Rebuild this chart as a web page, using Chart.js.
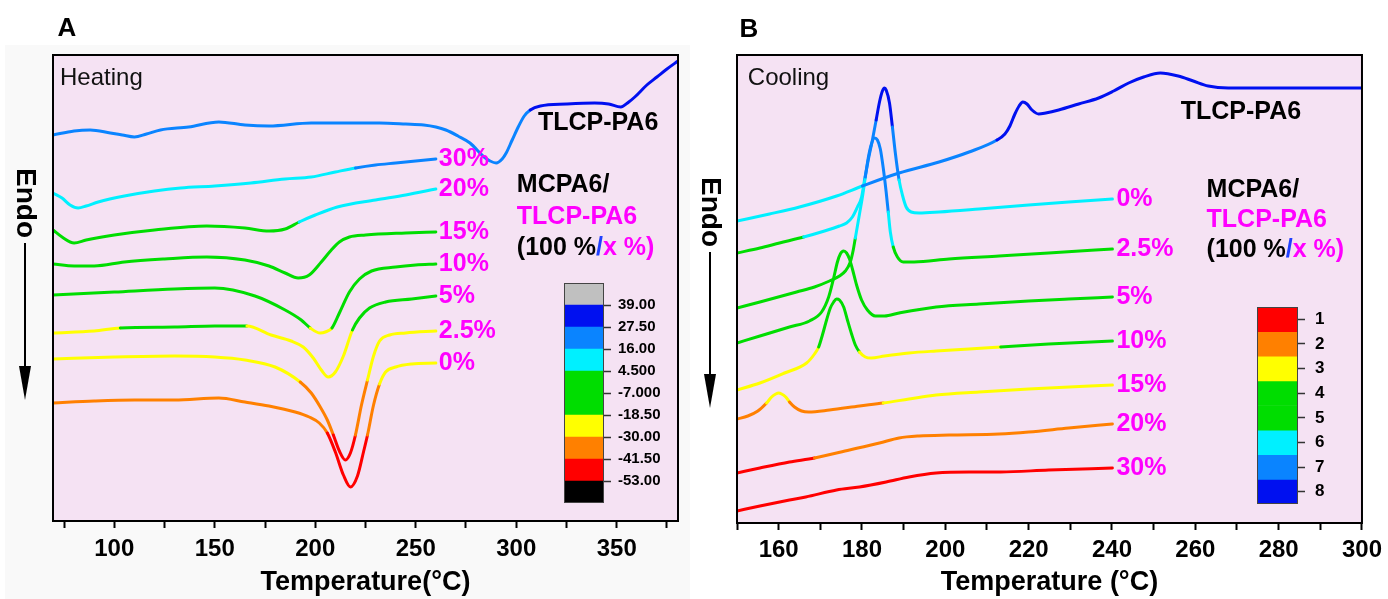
<!DOCTYPE html>
<html>
<head>
<meta charset="utf-8">
<script src="https://cdn.jsdelivr.net/npm/chart.js@4.4.0/dist/chart.umd.min.js"></script>
<style>
  body { margin: 0; background: #fff; width: 1388px; height: 599px; overflow: hidden; position: relative; }
  canvas { position: absolute; }
  #heat { left: 0; top: 0; }
  #cool { left: 690px; top: 0; }
  #barA { left: 564px; top: 261px; }
  #barB { left: 1257px; top: 285px; }
</style>
</head>
<body>
<canvas id="heat" width="690" height="599"></canvas>
<canvas id="cool" width="698" height="599"></canvas>
<canvas id="barA" width="110" height="264"></canvas>
<canvas id="barB" width="92" height="241"></canvas>
<script>
// ---------------------------------------------------------------- data : heating (A)
const hT_tlcp = [69.5, 80, 88, 98, 104, 110, 116, 123, 137, 152, 165, 177, 198, 215, 232, 245, 254, 260, 265, 271, 277, 284, 287, 290, 293, 295, 298, 301, 304, 307, 312, 325, 339, 346, 352, 356, 359, 365, 370, 375, 380.5];
const hY_tlcp = [38.6, 39.0, 39.1, 38.8, 38.6, 38.4, 38.7, 39.1, 39.4, 39.9, 39.6, 39.5, 39.8, 39.8, 39.8, 39.7, 39.6, 39.4, 39.1, 38.5, 37.8, 36.4, 36.0, 35.8, 36.2, 36.8, 38.1, 39.4, 40.5, 41.1, 41.5, 41.7, 41.8, 41.7, 41.4, 41.9, 42.4, 43.6, 44.4, 45.2, 46.0];
const hT_30 = [69.5, 74, 78, 82, 86, 92, 105, 120, 133, 150, 168, 185, 198, 210, 220, 230, 240, 250, 260];
const hY_30 = [32.8, 32.3, 31.6, 31.3, 31.5, 31.9, 32.5, 33.0, 33.3, 33.5, 33.8, 34.2, 34.4, 34.9, 35.3, 35.6, 35.8, 36.0, 36.2];
const hT_20 = [69.5, 74, 80, 86, 100, 120, 146, 165, 177, 185, 192, 200, 211, 230, 245, 260];
const hY_20 = [29.1, 28.4, 27.8, 28.1, 28.6, 29.1, 29.5, 29.3, 29.0, 29.2, 29.9, 30.6, 31.4, 32.1, 32.6, 33.2];
const hT_15 = [69.5, 80, 90, 105, 125, 146, 165, 177, 185, 191.5, 197, 203, 208, 212, 217, 225, 245, 260];
const hY_15 = [25.7, 25.5, 25.5, 25.9, 26.2, 26.4, 26.1, 25.5, 24.8, 24.3, 24.6, 25.9, 27.1, 27.9, 28.4, 28.6, 28.8, 28.9];
const hT_10 = [69.5, 100, 130, 150, 170, 185, 193, 197.5, 202.5, 205, 208.3, 212, 217, 222, 228, 240, 250, 260];
const hY_10 = [22.6, 22.9, 23.2, 23.3, 22.5, 21.1, 20.1, 19.3, 18.8, 18.9, 19.3, 20.8, 22.9, 24.2, 25.0, 25.4, 25.6, 25.7];
const hT_5 = [69.5, 90, 103, 130, 150, 166, 178, 188, 194, 199, 203, 206.5, 210, 214, 218.5, 222, 227, 235, 248, 260];
const hY_5 = [18.8, 19.0, 19.3, 19.4, 19.5, 19.5, 18.6, 18.0, 17.4, 16.3, 15.1, 14.4, 14.9, 16.5, 19.1, 20.3, 21.3, 21.9, 22.2, 22.5];
const hT_25 = [69.5, 100, 130, 150, 165, 180, 192.5, 198, 202.5, 206, 209, 212, 215, 217.5, 220, 223, 226, 229, 232, 237, 245, 260];
const hY_25 = [16.2, 16.4, 16.5, 16.4, 16.1, 15.4, 13.9, 12.8, 11.4, 10.1, 8.6, 7.0, 6.1, 6.8, 8.6, 11.6, 14.1, 16.5, 18.0, 18.6, 18.8, 19.0];
const hT_0 = [69.5, 90, 110, 130, 152, 165, 177, 190, 197, 202, 206, 210, 214, 217.5, 221, 224, 226, 229, 232, 235, 240, 248, 260];
const hY_0 = [11.8, 12.0, 12.1, 12.1, 12.3, 11.9, 11.5, 10.9, 10.4, 9.8, 8.8, 6.9, 4.6, 3.4, 4.5, 6.9, 8.6, 11.6, 13.7, 14.9, 15.4, 15.7, 15.8];

// ---------------------------------------------------------------- data : cooling (B)
const cT_tlcp = [150, 157.8, 165, 173.9, 180.1, 188.9, 198.5, 205.7, 212.4, 214.3, 215.5, 216.7, 217.7, 218.6, 219.6, 220.8, 222.4, 224.1, 227.2, 232, 236.8, 240.4, 244, 247.6, 251.6, 255.9, 259.5, 263.1, 267.9, 279.9, 300];
const cY_tlcp = [30.2, 30.9, 31.6, 32.7, 33.7, 35.0, 36.1, 37.1, 38.3, 38.9, 39.7, 40.9, 41.7, 42.1, 41.9, 41.3, 40.9, 41.0, 41.3, 41.9, 42.5, 43.2, 44.0, 44.6, 45.0, 44.7, 44.2, 43.7, 43.5, 43.5, 43.5];
const cT_0 = [150, 155.5, 160.2, 166, 171, 174.6, 176.3, 177.7, 178.9, 179.9, 180.6, 181.5, 182.5, 183.4, 184.2, 184.9, 185.4, 185.8, 186.6, 187.3, 188, 188.9, 189.7, 190.6, 191.8, 193.7, 198.5, 208.1, 220, 229.6, 240.1];
const cY_0 = [27.0, 27.5, 28.0, 28.6, 29.2, 29.7, 30.0, 30.6, 31.6, 32.6, 34.3, 36.3, 38.3, 40.3, 42.1, 43.2, 43.5, 43.3, 42.0, 39.6, 37.0, 34.3, 32.8, 31.6, 31.1, 31.0, 31.1, 31.4, 31.8, 32.1, 32.4];
const cT_25 = [150, 155.5, 164.3, 168.6, 172.2, 174.6, 176, 177.2, 177.9, 178.4, 178.9, 179.4, 180.1, 180.8, 181.5, 182.2, 183, 183.7, 184.4, 185.1, 185.8, 186.3, 186.8, 187.5, 188.5, 189.9, 192.5, 200.9, 212.9, 224.8, 240.1];
const cY_25 = [21.5, 22.1, 23.1, 23.6, 24.2, 24.7, 25.2, 26.1, 27.3, 28.5, 29.7, 30.9, 32.6, 34.6, 36.5, 37.8, 38.5, 38.3, 37.4, 35.5, 33.1, 31.1, 29.1, 27.6, 26.6, 26.1, 26.1, 26.4, 26.7, 27.0, 27.4];
const cT_5 = [150, 155.5, 162.6, 167.4, 170.3, 172, 173.2, 174.1, 174.8, 175.6, 176.3, 177, 177.7, 178.7, 179.9, 181.3, 183.2, 185.4, 188.9, 197.8, 208.1, 220, 229.6, 240.1];
const cY_5 = [18.0, 18.7, 19.6, 20.2, 21.1, 22.6, 24.5, 26.1, 26.9, 27.2, 27.0, 26.4, 25.4, 23.8, 22.3, 21.3, 20.7, 20.7, 21.0, 21.6, 21.9, 22.2, 22.4, 22.6];
const cT_10 = [150, 155.5, 161.4, 166.7, 168.6, 169.6, 170.5, 171.5, 172.4, 173.2, 173.9, 174.6, 175.6, 176.5, 177.5, 178.4, 179.4, 180.8, 182.2, 185.4, 191.3, 197.8, 205.7, 213.3, 224.8, 240.1];
const cY_10 = [13.3, 14.0, 15.0, 16.0, 16.9, 17.6, 18.8, 20.3, 21.5, 22.1, 22.4, 22.3, 21.6, 20.3, 18.9, 17.8, 17.1, 16.6, 16.5, 16.7, 17.0, 17.2, 17.4, 17.6, 17.9, 18.2];
const cT_15 = [150, 152.6, 155, 157.1, 158.3, 159.3, 160, 160.7, 161.7, 162.6, 163.8, 165.5, 167.2, 172.2, 179.4, 185.1, 191.3, 197.8, 208.1, 220, 240.1];
const cY_15 = [10.4, 10.7, 11.2, 12.0, 12.6, 12.9, 13.0, 12.9, 12.6, 12.1, 11.6, 11.2, 11.1, 11.3, 11.7, 12.0, 12.4, 12.8, 13.1, 13.4, 13.8];
const cT_20 = [150, 155.5, 162.6, 168.6, 177, 184.2, 188.9, 193.7, 200.9, 212.9, 220, 229.6, 240.1];
const cY_20 = [5.0, 5.5, 6.1, 6.5, 7.3, 8.0, 8.5, 8.7, 8.8, 8.9, 9.1, 9.5, 9.9];
const cT_30 = [150, 155.5, 162.6, 166.5, 173.9, 179.4, 185.8, 191.3, 197.8, 205.7, 213.3, 224.8, 240.1];
const cY_30 = [1.2, 1.7, 2.3, 2.6, 3.3, 3.6, 4.1, 4.6, 5.0, 5.1, 5.1, 5.3, 5.5];

// ---------------------------------------------------------------- colour scales
const levelsA = [-64.5, -53, -41.5, -30, -18.5, -7, 4.5, 16, 27.5, 39, 50.5];
const ticksA = [-53, -41.5, -30, -18.5, -7, 4.5, 16, 27.5, 39];
const levelsB = [1, 2, 3, 4, 5, 6, 7, 8];

// ---------------------------------------------------------------- styles
const FONT = '"Liberation Sans", Arial, Helvetica, sans-serif';
const PLOT_BG = '#f5e2f3';
const MAGENTA = '#ff00ff';
const pal = {
    black: '#000000', red: '#ff0000', orange: '#ff8000', yellow: '#ffff00',
    green: '#00dd00', cyan: '#00f0ff', lblue: '#0a84ff', blue: '#0010f0', gray: '#c0c0c0'
};
const barColorsA = ['black', 'red', 'orange', 'yellow', 'green', 'green', 'cyan', 'lblue', 'blue', 'gray'];
const barColorsB = ['red', 'orange', 'yellow', 'green', 'green', 'cyan', 'lblue', 'blue'];

// colour bands along each trace : [from temperature, colour]
const bandsA = {
    tlcp: [[0, 'lblue'], [306, 'blue']],
    p30: [[0, 'cyan'], [220, 'lblue']],
    p20: [[0, 'green'], [192, 'cyan']],
    p15: [[0, 'green']],
    p10: [[0, 'green'], [197.5, 'yellow'], [208.3, 'green']],
    p5: [[0, 'yellow'], [103, 'green'], [166, 'yellow'], [218.5, 'green']],
    p25: [[0, 'yellow'], [192.5, 'orange'], [209, 'red'], [220, 'orange'], [226, 'yellow']],
    p0: [[0, 'orange'], [206, 'red'], [226, 'orange'], [232, 'yellow']]
};
const bandsB = {
    tlcp: [[0, 'cyan'], [180, 'lblue'], [212.4, 'blue']],
    p0: [[0, 'green'], [166, 'cyan'], [180.6, 'lblue'], [183.4, 'blue'], [187.3, 'lblue'], [188.9, 'cyan']],
    p25: [[0, 'green'], [178.4, 'cyan'], [180.6, 'lblue'], [186.1, 'cyan'], [187.3, 'green']],
    p5: [[0, 'green']],
    p10: [[0, 'yellow'], [169.6, 'green'], [179.4, 'yellow'], [213.3, 'green']],
    p15: [[0, 'orange'], [157.1, 'yellow'], [162.6, 'orange'], [185.1, 'yellow']],
    p20: [[0, 'red'], [168.6, 'orange']],
    p30: [[0, 'red']]
};

Chart.defaults.font.family = FONT;
Chart.defaults.color = '#000';

const bandColor = (bands, t) => {
    let c = bands[0][1];
    bands.forEach(b => { if (t >= b[0]) c = b[1]; });
    return pal[c];
};

const curve = (T, Y, bands, endLabel) => ({
    data: T.map((t, i) => ({x: t, y: Y[i]})),
    endLabel: endLabel,
    borderWidth: 3,
    pointRadius: 0,
    cubicInterpolationMode: 'monotone',
    borderCapStyle: 'round',
    borderJoinStyle: 'round',
    borderColor: pal[bands[0][1]],
    segment: {
        borderColor: ctx => {
            const d = ctx.chart.data.datasets[ctx.datasetIndex].data;
            return bandColor(bands, (d[ctx.p0DataIndex].x + d[ctx.p1DataIndex].x) / 2);
        }
    }
});

const txt = (ctx, s, x, y, size, color, weight = 'bold', align = 'left') => {
    ctx.font = `${weight} ${size}px ${FONT}`;
    ctx.fillStyle = color;
    ctx.textAlign = align;
    ctx.textBaseline = 'middle';
    ctx.fillText(s, x, y);
};

const runs = (ctx, parts, x, y, size) => {
    let cx = x;
    parts.forEach(([s, c]) => { txt(ctx, s, cx, y, size, c); cx += ctx.measureText(s).width; });
};

const endo = (ctx, cx, textY, lineTop, tip) => {
    ctx.save();
    ctx.translate(cx, textY);
    ctx.rotate(Math.PI / 2);
    txt(ctx, 'Endo', 0, 0, 28, '#000', 'bold', 'center');
    ctx.restore();
    ctx.strokeStyle = '#000';
    ctx.lineWidth = 2;
    ctx.beginPath(); ctx.moveTo(cx, lineTop); ctx.lineTo(cx, tip - 30); ctx.stroke();
    ctx.fillStyle = '#000';
    ctx.beginPath(); ctx.moveTo(cx - 6, tip - 34); ctx.lineTo(cx + 6, tip - 34); ctx.lineTo(cx, tip); ctx.closePath(); ctx.fill();
};

const legendBlock = (ctx, x, y1, y2, y3) => {
    txt(ctx, 'MCPA6/', x, y1, 25, '#000');
    txt(ctx, 'TLCP-PA6', x, y2, 25, MAGENTA);
    runs(ctx, [['(100 %', '#000'], ['/', '#2040ff'], ['x %)', MAGENTA]], x, y3, 25);
};

const panelPlugin = (id, opts) => ({
    id: id,
    beforeDraw(chart) {
        const {ctx, chartArea: a} = chart;
        ctx.save();
        if (opts.backdrop) { ctx.fillStyle = '#f9f9f9'; ctx.fillRect(...opts.backdrop); }
        ctx.fillStyle = PLOT_BG;
        ctx.fillRect(a.left, a.top, a.right - a.left, a.bottom - a.top);
        ctx.restore();
    },
    afterDraw(chart) {
        const {ctx, chartArea: a, scales: {x, y}} = chart;
        ctx.save();
        ctx.strokeStyle = '#000';
        ctx.lineWidth = 2;
        ctx.strokeRect(a.left, a.top, a.right - a.left, a.bottom - a.top);
        chart.data.datasets.forEach((ds, i) => {
            if (!ds.endLabel) return;
            const pts = chart.getDatasetMeta(i).data;
            const p = pts[pts.length - 1];
            txt(ctx, ds.endLabel, p.x + opts.labelDx, p.y, 25, MAGENTA);
        });
        opts.notes(ctx, (t, v) => [x.getPixelForValue(t), y.getPixelForValue(v)]);
        ctx.restore();
    }
});

const mainOptions = (xmin, xmax, ymax, tickVals, every, title, pad, axisH, tickPad) => ({
    responsive: false,
    animation: false,
    devicePixelRatio: 1,
    layout: {padding: pad},
    plugins: {legend: {display: false}, tooltip: {enabled: false}},
    scales: {
        x: {
            type: 'linear', min: xmin, max: xmax,
            afterBuildTicks: s => { s.ticks = tickVals.map(v => ({value: v})); },
            afterFit: s => { s.height = axisH; },
            ticks: {
                autoSkip: false, maxRotation: 0, padding: tickPad, color: '#000',
                font: {size: 24, weight: 'bold'},
                callback: v => (v % every === 0 ? String(v) : '')
            },
            grid: {drawOnChartArea: false, drawTicks: true, tickLength: 7, tickWidth: 2, tickColor: '#000'},
            border: {display: false},
            title: {display: true, text: title, color: '#000', font: {size: 27, weight: 'bold'}, padding: {top: 0, bottom: 0}}
        },
        y: {display: false, min: 0, max: ymax}
    }
});

// ---------------------------------------------------------------- A : heating
const ticksHeat = [75, 100, 125, 150, 175, 200, 225, 250, 275, 300, 325, 350, 375];
new Chart(document.getElementById('heat'), {
    type: 'line',
    data: {
        datasets: [
            curve(hT_tlcp, hY_tlcp, bandsA.tlcp, ''),
            curve(hT_30, hY_30, bandsA.p30, '30%'),
            curve(hT_20, hY_20, bandsA.p20, '20%'),
            curve(hT_15, hY_15, bandsA.p15, '15%'),
            curve(hT_10, hY_10, bandsA.p10, '10%'),
            curve(hT_5, hY_5, bandsA.p5, '5%'),
            curve(hT_25, hY_25, bandsA.p25, '2.5%'),
            curve(hT_0, hY_0, bandsA.p0, '0%')
        ]
    },
    options: mainOptions(69.5, 380.5, 46.6, ticksHeat, 50, 'Temperature(\u00b0C)',
        {left: 53, right: 12, top: 55, bottom: 0}, 78, 7),
    plugins: [panelPlugin('heatPanel', {
        backdrop: [5, 45, 685, 554],
        labelDx: 3,
        notes: (ctx, at) => {
            txt(ctx, 'A', 67, 29, 26, '#000', 'bold', 'center');
            endo(ctx, 25, 203, 243, 400);
            let p = at(73, 44.3); txt(ctx, 'Heating', p[0], p[1], 24, '#111', 'normal');
            p = at(310.8, 39.8); txt(ctx, 'TLCP-PA6', p[0], p[1], 25, '#000');
            const q = at(300.3, 33.6);
            legendBlock(ctx, q[0], q[1], at(0, 30.4)[1], at(0, 27.3)[1]);
        }
    })]
});

// ---------------------------------------------------------------- B : cooling
const ticksCool = [150, 160, 170, 180, 190, 200, 210, 220, 230, 240, 250, 260, 270, 280, 290, 300];
new Chart(document.getElementById('cool'), {
    type: 'line',
    data: {
        datasets: [
            curve(cT_tlcp, cY_tlcp, bandsB.tlcp, ''),
            curve(cT_30, cY_30, bandsB.p30, '30%'),
            curve(cT_20, cY_20, bandsB.p20, '20%'),
            curve(cT_15, cY_15, bandsB.p15, '15%'),
            curve(cT_10, cY_10, bandsB.p10, '10%'),
            curve(cT_5, cY_5, bandsB.p5, '5%'),
            curve(cT_25, cY_25, bandsB.p25, '2.5%'),
            curve(cT_0, cY_0, bandsB.p0, '0%')
        ]
    },
    options: mainOptions(150, 300, 46.8, ticksCool, 20, 'Temperature (\u00b0C)',
        {left: 47, right: 24, top: 55, bottom: 0}, 76, 6),
    plugins: [panelPlugin('coolPanel', {
        labelDx: 4,
        notes: (ctx, at) => {
            txt(ctx, 'B', 59, 30, 26, '#000', 'bold', 'center');
            endo(ctx, 20, 212, 252, 408);
            let p = at(152.6, 44.5); txt(ctx, 'Cooling', p[0], p[1], 24, '#111', 'normal');
            p = at(256.5, 41.1); txt(ctx, 'TLCP-PA6', p[0], p[1], 25, '#000');
            const q = at(262.7, 33.3);
            legendBlock(ctx, q[0], q[1], at(0, 30.3)[1], at(0, 27.3)[1]);
        }
    })]
});

// ---------------------------------------------------------------- colour bars
const framePlugin = {
    id: 'barFrame',
    afterDraw(chart) {
        const {ctx, chartArea: a} = chart;
        ctx.save();
        ctx.strokeStyle = '#444';
        ctx.lineWidth = 1;
        ctx.strokeRect(a.left + 0.5, a.top + 0.5, a.right - a.left - 1, a.bottom - a.top - 1);
        ctx.restore();
    }
};

const colorBar = (id, ranges, colors, tickVals, fmt, yOpts, fontSize, axisW, tickPad) => new Chart(document.getElementById(id), {
    type: 'bar',
    data: {
        labels: [''],
        datasets: ranges.map((r, i) => ({
            data: [r], backgroundColor: pal[colors[i]], borderWidth: 0,
            barPercentage: 1, categoryPercentage: 1, grouped: false
        }))
    },
    options: {
        responsive: false,
        animation: false,
        devicePixelRatio: 1,
        layout: {padding: {top: 22, bottom: 22, left: 0, right: 0}},
        plugins: {legend: {display: false}, tooltip: {enabled: false}},
        scales: {
            x: {display: false},
            y: Object.assign({
                position: 'right',
                afterBuildTicks: s => { s.ticks = tickVals.map(v => ({value: v})); },
                afterFit: s => { s.width = axisW; },
                ticks: {callback: fmt, color: '#000', padding: tickPad, font: {size: fontSize, weight: 'bold'}},
                grid: {drawOnChartArea: false, tickLength: 7, tickWidth: 1.5, tickColor: '#333'},
                border: {display: false}
            }, yOpts)
        }
    },
    plugins: [framePlugin]
});

colorBar('barA',
    levelsA.slice(0, -1).map((lo, i) => [lo, levelsA[i + 1]]),
    barColorsA, ticksA, v => Number(v).toPrecision(4),
    {min: levelsA[0], max: levelsA[levelsA.length - 1]}, 15, 70, 7);

colorBar('barB',
    levelsB.map(v => [v - 0.5, v + 0.5]),
    barColorsB, levelsB, v => String(v),
    {min: 0.5, max: 8.5, reverse: true}, 17, 51, 10);
</script>
</body>
</html>
